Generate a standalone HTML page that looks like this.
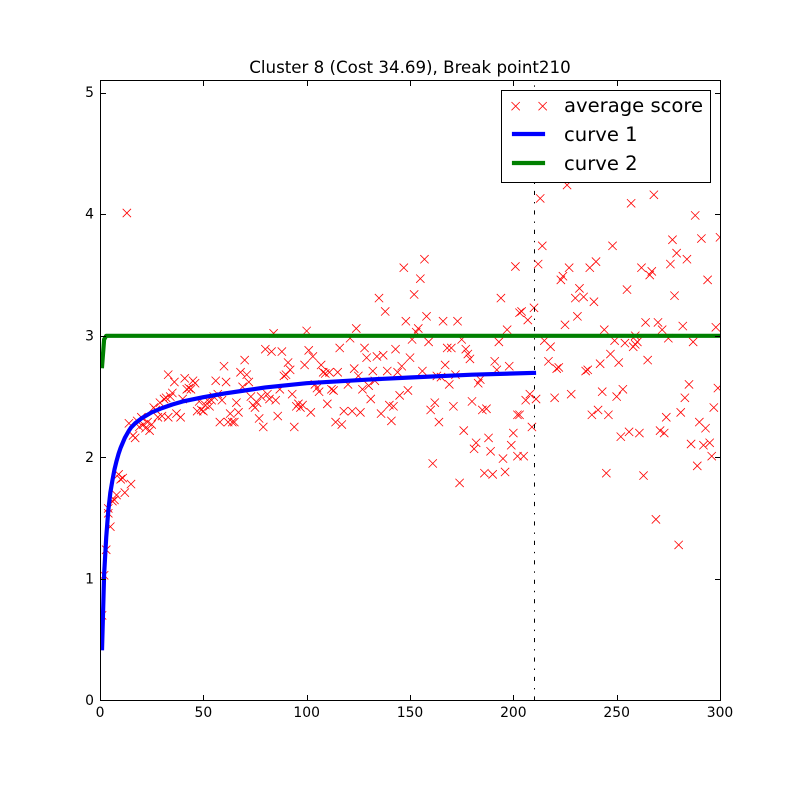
<!DOCTYPE html>
<html>
<head>
<meta charset="utf-8">
<title>Cluster 8 chart</title>
<style>
html,body{margin:0;padding:0;background:#fff;}
svg{display:block;font-family:"DejaVu Sans","Liberation Sans",sans-serif;}
</style>
</head>
<body>
<svg id="chart" xmlns="http://www.w3.org/2000/svg" width="800" height="800" viewBox="0 0 800 800">
  <defs><clipPath id="plot-clip"><rect x="100" y="80" width="620" height="620"/></clipPath></defs>
  <rect x="100" y="80" width="620" height="620" fill="#fff"/>
  <text x="410" y="73" font-size="16.67" text-anchor="middle" fill="#000">Cluster 8 (Cost 34.69), Break point210</text>
  <g id="marks" clip-path="url(#plot-clip)"></g>
  <g id="ticks"></g>
  <rect x="100.5" y="80.5" width="620" height="620" fill="none" stroke="#000" stroke-width="1"/>
  <g>
    <rect x="501.5" y="90.5" width="209" height="92" fill="#fff" stroke="#000" stroke-width="1"/>
    <path d="M511.5 102l8.3 8.3M511.5 110.3l8.3-8.3" stroke="#f00" stroke-width="0.8" fill="none"/>
    <path d="M538.5 102l8.3 8.3M538.5 110.3l8.3-8.3" stroke="#f00" stroke-width="0.8" fill="none"/>
    <text x="564" y="112" font-size="19.6" fill="#000">average score</text>
    <line x1="514" y1="134" x2="543" y2="134" stroke="#00f" stroke-width="4.17" stroke-linecap="square"/>
    <text x="564" y="141" font-size="19.6" fill="#000">curve 1</text>
    <line x1="514" y1="163" x2="543" y2="163" stroke="#008000" stroke-width="4.17" stroke-linecap="square"/>
    <text x="564" y="170" font-size="19.6" fill="#000">curve 2</text>
  </g>
</svg>
<script>
var scoreX = [
157,147,201,155,135,152,194,138,158,148,
166,173,203,100,124,154,153,197,121,151,
159,175,193,116,128,143,168,170,177,101,
103,129,134,137,150,178,179,191,99,107,
146,167,192,198,123,132,139,108,109,111,
115,144,156,125,163,172,165,133,184,183,
169,104,120,130,105,112,106,113,127,149,
145,131,110,140,142,162,160,171,180,185,
187,118,122,126,136,102,97,98,114,117,
141,164,176,202,200,182,181,188,189,199,
195,202,161,186,190,196,174,
226,213,257,268,288,214,248,277,291,300,
279,284,212,227,240,237,262,276,267,266,
224,223,294,232,255,230,234,239,278,210,
204,207,231,225,264,270,282,298,244,272,
259,249,275,254,260,258,287,215,218,247,
217,242,251,265,222,221,236,235,259,
285,299,243,253,250,283,208,206,211,220,
228,241,238,246,297,281,274,203,209,290,
293,271,273,252,256,261,286,292,295,296,
205,289,245,263,269,280,
84,80,83,88,60,70,91,33,36,41,
46,43,44,42,45,56,61,68,71,72,
69,89,90,92,35,32,31,29,26,40,
57,48,52,54,59,66,73,78,81,82,
85,87,93,76,74,75,96,95,49,50,
33,37,39,28,20,14,21,25,24,17,
58,62,64,65,67,63,77,79,86,94,
16,18,19,22,23,27,30,34,47,51,
53,55,
15,11,9,10,12,8,7,6,5,4,
4,3,2,1,13
];
var scoreY = [
3.63,3.56,3.57,3.47,3.31,3.34,3.31,3.20,3.16,3.12,
3.12,3.12,3.19,3.04,3.06,3.06,3.03,3.05,2.98,2.97,
2.95,2.97,2.95,2.90,2.90,2.89,2.90,2.90,2.89,2.88,
2.83,2.82,2.83,2.84,2.82,2.85,2.81,2.79,2.76,2.76,
2.75,2.76,2.72,2.75,2.73,2.71,2.71,2.70,2.69,2.70,
2.70,2.70,2.71,2.67,2.67,2.68,2.66,2.63,2.64,2.61,
2.60,2.60,2.60,2.59,2.57,2.56,2.54,2.55,2.56,2.55,
2.51,2.48,2.44,2.43,2.42,2.45,2.39,2.42,2.46,2.39,
2.40,2.38,2.38,2.37,2.36,2.37,2.41,2.43,2.29,2.27,
2.30,2.29,2.22,2.35,2.20,2.12,2.07,2.16,2.05,2.10,
1.99,2.01,1.95,1.87,1.86,1.88,1.79,
4.24,4.13,4.09,4.16,3.99,3.74,3.74,3.79,3.80,3.81,
3.68,3.63,3.59,3.56,3.61,3.56,3.56,3.59,3.53,3.50,
3.49,3.46,3.46,3.39,3.38,3.31,3.32,3.28,3.33,3.23,
3.20,3.13,3.16,3.09,3.11,3.11,3.08,3.07,3.05,3.05,
3.00,2.96,2.98,2.94,2.95,2.91,2.95,2.96,2.91,2.85,
2.79,2.77,2.78,2.80,2.74,2.73,2.72,2.71,2.93,
2.60,2.57,2.54,2.56,2.50,2.49,2.52,2.47,2.48,2.49,
2.52,2.39,2.35,2.35,2.41,2.37,2.33,2.35,2.25,2.29,
2.24,2.22,2.20,2.17,2.21,2.20,2.11,2.10,2.12,2.01,
2.01,1.93,1.87,1.85,1.49,1.28,
3.02,2.89,2.87,2.87,2.75,2.80,2.78,2.68,2.62,2.65,
2.61,2.57,2.56,2.56,2.63,2.63,2.62,2.70,2.68,2.62,
2.58,2.67,2.68,2.72,2.53,2.49,2.48,2.45,2.41,2.48,
2.52,2.46,2.47,2.47,2.47,2.45,2.50,2.50,2.52,2.48,
2.47,2.56,2.52,2.45,2.43,2.41,2.44,2.42,2.39,2.38,
2.33,2.36,2.33,2.33,2.33,2.28,2.27,2.27,2.22,2.16,
2.29,2.29,2.29,2.29,2.37,2.36,2.32,2.25,2.34,2.25,
2.18,2.30,2.25,2.24,2.29,2.39,2.34,2.50,2.38,2.43,
2.42,2.50,
1.78,1.83,1.86,1.82,1.71,1.69,1.65,1.64,1.43,1.58,
1.54,1.24,1.03,0.70,4.01
];
var curve1X = [1,2,3,4,5,6,7,8,9,10,11,12,13,14,15,17,20,25,30,35,40,50,60,70,80,100,130,150,180,210];
var curve1Y = [0.43,1.04,1.34,1.56,1.71,1.81,1.90,1.97,2.03,2.08,2.12,2.16,2.19,2.22,2.245,2.28,2.32,2.37,2.405,2.435,2.46,2.495,2.525,2.55,2.575,2.61,2.64,2.657,2.68,2.695];
var curve2X = [1,2,3,300];
var curve2Y = [2.75,2.97,3.0,3.0];
var breakPointX = [210, 210];
var breakPointY = [0, 5.1];
var xTickValues = [0,50,100,150,200,250,300];
var yTickValues = [0,1,2,3,4,5];
var xDomain = [0, 300];
var yDomain = [0, 5.1];

var NS = 'http://www.w3.org/2000/svg';
var marks = document.getElementById('marks');
var ticks = document.getElementById('ticks');
function xScale(v){ return 100 + (v - xDomain[0]) / (xDomain[1] - xDomain[0]) * 620; }
function yScale(v){ return 700.5 - (v - yDomain[0]) / (yDomain[1] - yDomain[0]) * 620; }
function linePath(xs, ys, snapX){
  var d = '';
  for (var i = 0; i < xs.length; i++) {
    var px = snapX ? Math.round(xScale(xs[i])) + 0.5 : xScale(xs[i]);
    d += (i ? 'L' : 'M') + px.toFixed(2) + ' ' + yScale(ys[i]).toFixed(2);
  }
  return d;
}

for (var i = 0; i < scoreX.length; i++) {
  var m = document.createElementNS(NS, 'path');
  var cx = xScale(scoreX[i]), cy = yScale(scoreY[i]), r = 4.17;
  m.setAttribute('d', 'M' + (cx - r) + ' ' + (cy - r) + 'L' + (cx + r) + ' ' + (cy + r) + 'M' + (cx - r) + ' ' + (cy + r) + 'L' + (cx + r) + ' ' + (cy - r));
  m.setAttribute('stroke', '#f00');
  m.setAttribute('stroke-width', '0.8');
  m.setAttribute('fill', 'none');
  
  
  marks.appendChild(m);
}

var bp = document.createElementNS(NS, 'path');
bp.setAttribute('d', linePath(breakPointX, breakPointY, true));
bp.setAttribute('stroke', '#000');
bp.setAttribute('stroke-width', '1');
bp.setAttribute('stroke-dasharray', '4.17 6.94 1.39 6.94');
bp.setAttribute('fill', 'none');


marks.appendChild(bp);

var c1 = document.createElementNS(NS, 'path');
c1.setAttribute('d', linePath(curve1X, curve1Y, false));
c1.setAttribute('stroke', '#00f');
c1.setAttribute('stroke-width', '4.17');
c1.setAttribute('stroke-linecap', 'square');
c1.setAttribute('stroke-linejoin', 'round');
c1.setAttribute('fill', 'none');


marks.appendChild(c1);

var c2 = document.createElementNS(NS, 'path');
c2.setAttribute('d', linePath(curve2X, curve2Y, false));
c2.setAttribute('stroke', '#008000');
c2.setAttribute('stroke-width', '4.17');
c2.setAttribute('stroke-linecap', 'square');
c2.setAttribute('stroke-linejoin', 'round');
c2.setAttribute('fill', 'none');


marks.appendChild(c2);

function tickLine(x1, y1, x2, y2, name){
  var t = document.createElementNS(NS, 'line');
  t.setAttribute('x1', x1);
  t.setAttribute('y1', y1);
  t.setAttribute('x2', x2);
  t.setAttribute('y2', y2);
  t.setAttribute('stroke', '#000');
  t.setAttribute('stroke-width', '1');
  
  
  ticks.appendChild(t);
}
xTickValues.forEach(function(v){
  var x = Math.round(xScale(v)) + 0.5;
  tickLine(x, 700, x, 695, 'x-tick-mark');
  tickLine(x, 81, x, 86, 'x-tick-mark-top');
  var l = document.createElementNS(NS, 'text');
  l.setAttribute('x', xScale(v));
  l.setAttribute('y', 717);
  l.setAttribute('font-size', '13.89');
  l.setAttribute('text-anchor', 'middle');
  
  
  l.textContent = v;
  ticks.appendChild(l);
});
yTickValues.forEach(function(v){
  var y = Math.min(Math.round(yScale(v)) + 0.5, 700.5);
  tickLine(101, y, 106, y, 'y-tick-mark');
  tickLine(720, y, 715, y, 'y-tick-mark-right');
  var l = document.createElementNS(NS, 'text');
  l.setAttribute('x', 94);
  l.setAttribute('y', yScale(v) + 4.5);
  l.setAttribute('font-size', '13.89');
  l.setAttribute('text-anchor', 'end');
  
  
  l.textContent = v;
  ticks.appendChild(l);
});
</script>
</body>
</html>
